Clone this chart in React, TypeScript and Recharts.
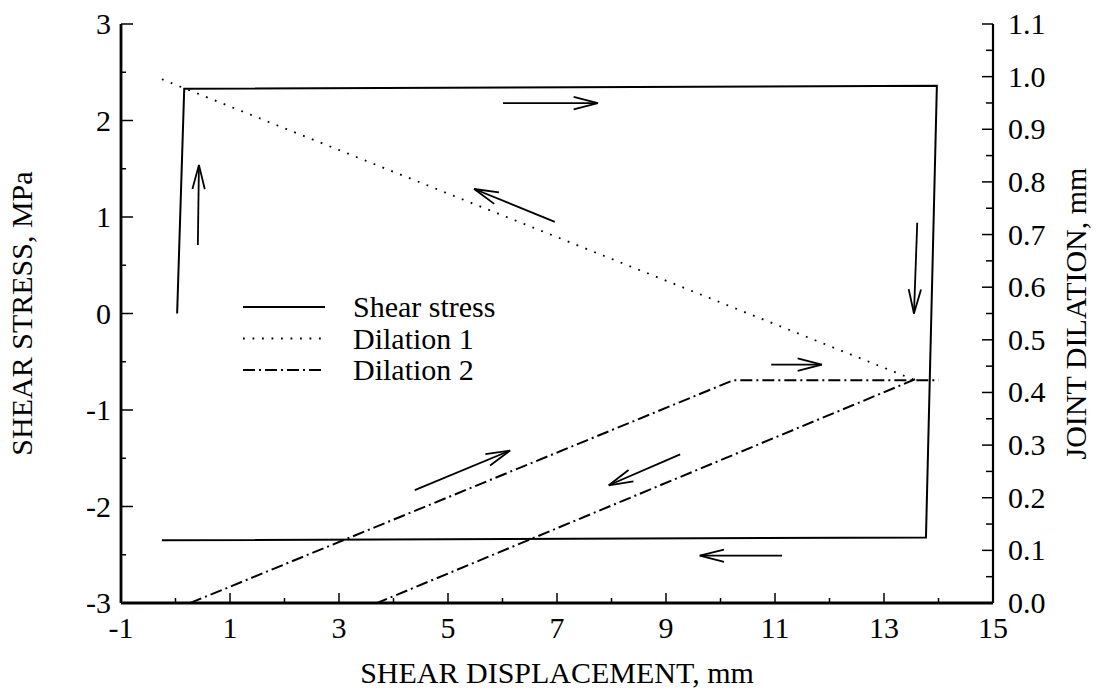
import React from "react";
import { LineChart, Line, XAxis, YAxis, ReferenceLine, Legend } from "recharts";

// shear stress loop (left axis, MPa)
const stressX = [0.03, 0.16, 13.97, 13.77, -0.25];
const stressY = [0.0, 2.33, 2.36, -2.32, -2.35];

// dilation 1 (right axis, mm)
const dil1X = [-0.25, 13.53];
const dil1Y = [0.995, 0.425];

// dilation 2, loading branch and unloading branch (right axis, mm)
const dil2aX = [0.27, 10.23, 14.0];
const dil2aY = [0.0, 0.423, 0.423];
const dil2bX = [13.57, 3.7];
const dil2bY = [0.425, 0.0];

// direction arrows: [x1, y1, x2, y2] in left-axis units, head at (x2, y2)
const arrows: number[][] = [
  [0.41, 0.71, 0.43, 1.54],
  [6.01, 2.18, 7.75, 2.18],
  [6.96, 0.95, 5.48, 1.29],
  [13.61, 0.94, 13.55, 0.0],
  [10.93, -0.53, 11.86, -0.53],
  [4.39, -1.83, 6.14, -1.42],
  [9.26, -1.46, 7.95, -1.78],
  [11.13, -2.51, 9.62, -2.51],
];

const xTicks = [-1, 0, 1, 2, 3, 4, 5, 6, 7, 8, 9, 10, 11, 12, 13, 14, 15];
const leftTicks = [-3, -2.5, -2, -1.5, -1, -0.5, 0, 0.5, 1, 1.5, 2, 2.5, 3];
const rightTicks = [
  0, 0.05, 0.1, 0.15, 0.2, 0.25, 0.3, 0.35, 0.4, 0.45, 0.5, 0.55, 0.6, 0.65,
  0.7, 0.75, 0.8, 0.85, 0.9, 0.95, 1.0, 1.05, 1.1,
];

const legendItems = [
  { name: "Shear stress", dash: "" },
  { name: "Dilation 1", dash: "1.8 7.7" },
  { name: "Dilation 2", dash: "12 4 2 4" },
];

const FONT = "'Liberation Serif', 'Times New Roman', serif";
const FS = 30;

const toPts = (xs: number[], ys: number[]) => xs.map((x, i) => ({ x, y: ys[i] }));

const BottomTick = (props: any) => {
  const { x, y, payload } = props;
  const v = payload.value;
  const major = Math.abs(v % 2) === 1;
  return (
    <g>
      <line x1={x} x2={x} y1={y} y2={y - (major ? 10 : 5)} stroke="#000" strokeWidth={1.5} />
      {major && (
        <text x={x} y={y + 35} textAnchor="middle" fontSize={FS} fontFamily={FONT} fill="#000">
          {v}
        </text>
      )}
    </g>
  );
};

const TopTick = (props: any) => {
  const { x, y, payload } = props;
  const major = Math.abs(payload.value % 2) === 1;
  return <line x1={x} x2={x} y1={y} y2={y + (major ? 10 : 6)} stroke="#000" strokeWidth={1.5} />;
};

const LeftTick = (props: any) => {
  const { x, y, payload } = props;
  const v = payload.value;
  const major = Number.isInteger(v);
  return (
    <g>
      <line x1={x} x2={x + (major ? 12 : 5)} y1={y} y2={y} stroke="#000" strokeWidth={1.5} />
      {major && (
        <text x={x - 10} y={y + 10} textAnchor="end" fontSize={FS} fontFamily={FONT} fill="#000">
          {v}
        </text>
      )}
    </g>
  );
};

const RightTick = (props: any) => {
  const { x, y, payload } = props;
  const v = payload.value;
  const major = Math.round(v * 100) % 10 === 0;
  return (
    <g>
      <line x1={x} x2={x - (major ? 11 : 7)} y1={y} y2={y} stroke="#000" strokeWidth={1.5} />
      {major && (
        <text x={x + 15} y={y + 10} textAnchor="start" fontSize={FS} fontFamily={FONT} fill="#000">
          {v.toFixed(1)}
        </text>
      )}
    </g>
  );
};

// line with an open arrow head at its end point
const ArrowShape = (props: any) => {
  const { x1, y1, x2, y2 } = props;
  const ang = Math.atan2(y2 - y1, x2 - x1);
  const len = 25;
  const spread = 0.25;
  const ax = x2 - len * Math.cos(ang - spread);
  const ay = y2 - len * Math.sin(ang - spread);
  const bx = x2 - len * Math.cos(ang + spread);
  const by = y2 - len * Math.sin(ang + spread);
  return (
    <g fill="none" stroke="#000" strokeWidth={1.8}>
      <line x1={x1} y1={y1} x2={x2} y2={y2} />
      <polyline points={`${ax},${ay} ${x2},${y2} ${bx},${by}`} />
    </g>
  );
};

const LegendBox = () => (
  <svg width={340} height={100} style={{ display: "block" }}>
    {legendItems.map((it, i) => {
      const cy = 17 + i * 31.5;
      return (
        <g key={it.name}>
          <line x1={0} x2={82} y1={cy} y2={cy} stroke="#000" strokeWidth={it.dash ? 1.8 : 2} strokeDasharray={it.dash || undefined} />
          <text x={110} y={cy + 10} fontSize={FS} fontFamily={FONT} fill="#000">
            {it.name}
          </text>
        </g>
      );
    })}
  </svg>
);

export default function App() {
  return (
    <div style={{ position: "absolute", left: 0, top: 0, background: "#fff" }}>
      <LineChart width={1099} height={689} margin={{ top: 24, right: 20, bottom: 20, left: 21 }}>
        <XAxis
          xAxisId="b"
          type="number"
          dataKey="x"
          domain={[-1, 15]}
          ticks={xTicks}
          interval={0}
          allowDataOverflow
          height={66}
          tickSize={0}
          tickMargin={0}
          tickLine={false}
          tick={<BottomTick />}
          axisLine={{ stroke: "#000", strokeWidth: 2.8 }}
          label={(p: any) => {
            const vb = p.viewBox;
            return (
              <text x={vb.x + vb.width / 2} y={vb.y + 80} textAnchor="middle" fontSize={FS} fontFamily={FONT} fill="#000">
                SHEAR DISPLACEMENT, mm
              </text>
            );
          }}
        />
        <XAxis
          xAxisId="t"
          orientation="top"
          type="number"
          dataKey="x"
          domain={[-1, 15]}
          ticks={xTicks}
          interval={0}
          allowDataOverflow
          height={0}
          tickSize={0}
          tickMargin={0}
          tickLine={false}
          tick={<TopTick />}
          axisLine={{ stroke: "#000", strokeWidth: 2.8 }}
        />
        <YAxis
          yAxisId="L"
          type="number"
          domain={[-3, 3]}
          ticks={leftTicks}
          interval={0}
          allowDataOverflow
          width={100}
          tickSize={0}
          tickMargin={0}
          tickLine={false}
          tick={<LeftTick />}
          axisLine={{ stroke: "#000", strokeWidth: 2.8 }}
          label={(p: any) => {
            const vb = p.viewBox;
            const cy = vb.y + vb.height / 2;
            return (
              <text x={32} y={cy} transform={`rotate(-90, 32, ${cy})`} textAnchor="middle" fontSize={FS} fontFamily={FONT} fill="#000">
                SHEAR STRESS, MPa
              </text>
            );
          }}
        />
        <YAxis
          yAxisId="R"
          orientation="right"
          type="number"
          domain={[0, 1.1]}
          ticks={rightTicks}
          interval={0}
          allowDataOverflow
          width={86}
          tickSize={0}
          tickMargin={0}
          tickLine={false}
          tick={<RightTick />}
          axisLine={{ stroke: "#000", strokeWidth: 2.2 }}
          label={(p: any) => {
            const vb = p.viewBox;
            const cy = vb.y + vb.height / 2;
            return (
              <text x={1086} y={cy} transform={`rotate(-90, 1086, ${cy})`} textAnchor="middle" fontSize={FS} fontFamily={FONT} fill="#000">
                JOINT DILATION, mm
              </text>
            );
          }}
        />

        <Line
          xAxisId="b"
          yAxisId="L"
          data={toPts(stressX, stressY)}
          dataKey="y"
          type="linear"
          stroke="#000"
          strokeWidth={2}
          dot={false}
          activeDot={false}
          isAnimationActive={false}
        />
        <Line
          xAxisId="b"
          yAxisId="R"
          data={toPts(dil1X, dil1Y)}
          dataKey="y"
          type="linear"
          stroke="#000"
          strokeWidth={1.8}
          strokeDasharray="1.8 7.7"
          dot={false}
          activeDot={false}
          isAnimationActive={false}
        />
        <Line
          xAxisId="b"
          yAxisId="R"
          data={toPts(dil2aX, dil2aY)}
          dataKey="y"
          type="linear"
          stroke="#000"
          strokeWidth={2}
          strokeDasharray="12 4 2 4"
          dot={false}
          activeDot={false}
          isAnimationActive={false}
        />
        <Line
          xAxisId="b"
          yAxisId="R"
          data={toPts(dil2bX, dil2bY)}
          dataKey="y"
          type="linear"
          stroke="#000"
          strokeWidth={2}
          strokeDasharray="12 4 2 4"
          dot={false}
          activeDot={false}
          isAnimationActive={false}
        />

        {arrows.map((a, i) => (
          <ReferenceLine
            key={i}
            xAxisId="b"
            yAxisId="L"
            segment={[
              { x: a[0], y: a[1] },
              { x: a[2], y: a[3] },
            ]}
            shape={<ArrowShape />}
            ifOverflow="visible"
          />
        ))}

        <Legend
          layout="vertical"
          align="center"
          verticalAlign="middle"
          content={() => <LegendBox />}
          wrapperStyle={{ left: 243, top: 290, width: 340, height: 100 }}
        />
      </LineChart>
    </div>
  );
}
